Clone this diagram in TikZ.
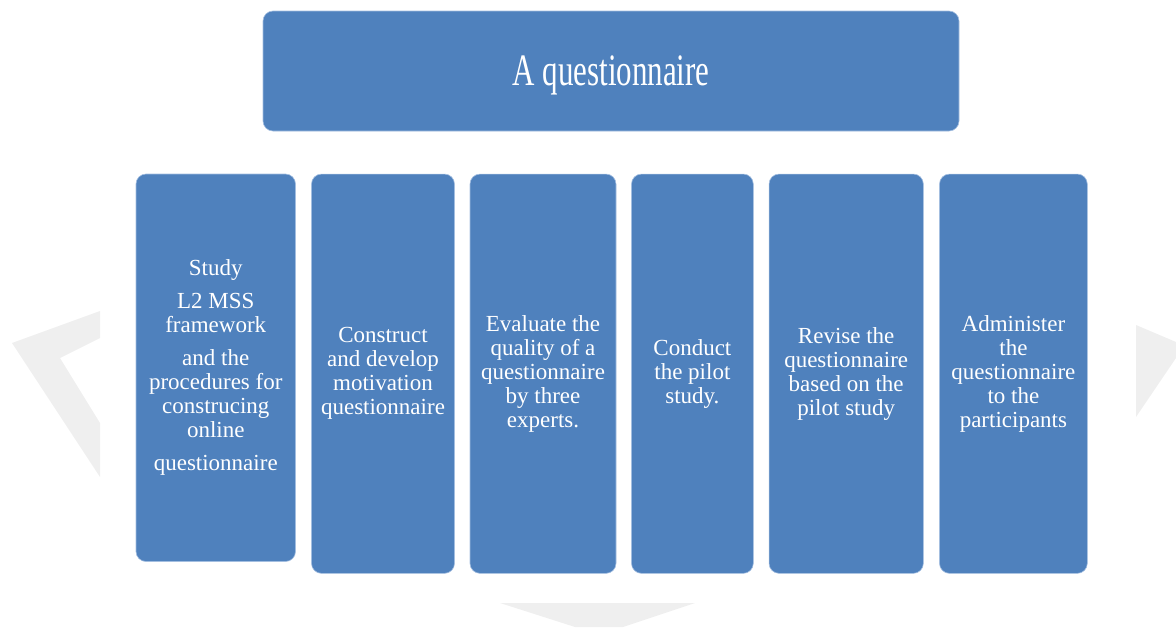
\documentclass[tikz,border=0pt]{standalone}
\usepackage{fontspec}
\usepackage{graphicx}
\setmainfont{Liberation Serif}
\definecolor{boxblue}{HTML}{4F81BD}
\definecolor{boxedge}{HTML}{A3BEE0}
\definecolor{shade}{HTML}{EFEFEF}
\begin{document}
\begin{tikzpicture}[x=1pt,y=-1pt,
  stepbox/.style={fill=boxblue, draw=boxedge, line width=0.6pt, rounded corners=10pt,
    text=white, align=center, inner sep=0pt, font=\fontsize{23}{24}\selectfont},
  bgshape/.style={fill=shade}]
\useasboundingbox (0,0) rectangle (1176,627);
% faint background arrow shapes
\fill[bgshape] (100,311) -- (12,343) -- (100,477) -- (100,423) -- (60,358) -- (100,338) -- cycle;
\fill[bgshape] (1136,325) -- (1176,342) -- (1176,358) -- (1136,417) -- cycle;
\fill[bgshape] (500,603) -- (695,603) -- (623,627) -- (575,627) -- cycle;
% title
\node[stepbox, minimum width=696pt, minimum height=120pt] (title) at (611,71)
  {\raisebox{-14pt}[0pt][0pt]{\scalebox{1}[1.45]{\fontsize{31}{31}\selectfont A questionnaire}}};
% steps
\node[stepbox, minimum width=159.5pt, minimum height=387.5pt] (s1) at (215.75,367.75)
  {Study\\[9pt]L2 MSS\\framework\\[9pt]and the\\procedures for\\construcing\\online\\[9pt]questionnaire};
\node[stepbox, minimum width=143pt, minimum height=399.3pt] (s2) at (383,373.7)
  {Construct\\and develop\\motivation\\questionnaire};
\node[stepbox, minimum width=146pt, minimum height=399.3pt] (s3) at (543,373.7)
  {Evaluate the\\quality of a\\questionnaire\\by three\\experts.};
\node[stepbox, minimum width=121.8pt, minimum height=399.3pt] (s4) at (692.4,373.7)
  {Conduct\\the pilot\\study.};
\node[stepbox, minimum width=154.3pt, minimum height=399.3pt] (s5) at (846.2,373.7)
  {Revise the\\questionnaire\\based on the\\pilot study};
\node[stepbox, minimum width=147.8pt, minimum height=399.3pt] (s6) at (1013.4,373.7)
  {Administer\\the\\questionnaire\\to the\\participants};
\end{tikzpicture}
\end{document}
